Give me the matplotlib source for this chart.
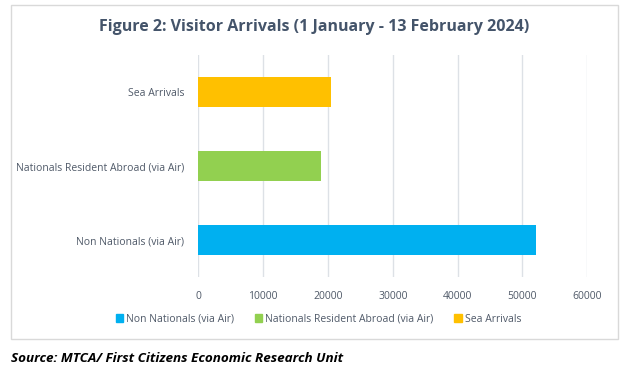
import matplotlib
matplotlib.use("Agg")
import matplotlib.pyplot as plt
from matplotlib.patches import Rectangle, Patch

categories = ['Non Nationals (via Air)', 'Nationals Resident Abroad (via Air)', 'Sea Arrivals']
arrivals = [52100, 18900, 20500]
colors = ['#00B0F0', '#92D050', '#FFC000']
xticks = [0, 10000, 20000, 30000, 40000, 50000, 60000]

W, H = 628, 373
text_col = '#4F5968'
plt.rcParams['font.family'] = ['Open Sans', 'DejaVu Sans']

fig = plt.figure(figsize=(W / 100, H / 100), dpi=100)
fig.patches.append(Rectangle((11 / W, 1 - 339 / H), 607 / W, 334 / H,
                             transform=fig.transFigure, fill=False,
                             edgecolor='#D9D9D9', linewidth=1))

ax = fig.add_axes([198.3 / W, 1 - 277 / H, 389 / W, 222 / H])
ax.barh(range(len(categories)), arrivals, height=0.4, color=colors, zorder=3)
ax.set_xlim(0, 60000)
ax.set_ylim(-0.5, 2.5)
ax.set_xticks(xticks)
ax.set_xticklabels([str(t) for t in xticks])
ax.set_yticks(range(len(categories)))
ax.set_yticklabels(categories)
ax.tick_params(axis='both', length=0, labelsize=7.5, labelcolor=text_col)
ax.tick_params(axis='x', pad=10)
ax.tick_params(axis='y', pad=10)
ax.grid(axis='x', color='#DDE1E6', linewidth=1, zorder=0)
for s in ax.spines.values():
    s.set_visible(False)

fig.text(0.5, 1 - 27 / H, 'Figure 2: Visitor Arrivals (1 January - 13 February 2024)',
         ha='center', va='center', fontsize=11.5, fontweight='bold',
         fontstretch='condensed', color='#44546A', family=['Open Sans', 'DejaVu Sans'])

handles = [Patch(color=c, label=l) for c, l in zip(colors, categories)]
fig.legend(handles=handles, loc='center', bbox_to_anchor=(0.507, 1 - 319 / H),
           ncol=3, frameon=False, fontsize=7.5, labelcolor=text_col,
           handlelength=0.7, handleheight=0.7, handletextpad=0.3, columnspacing=2.0)

fig.text(11 / W, 1 - 358 / H, 'Source: MTCA/ First Citizens Economic Research Unit',
         ha='left', va='center', fontsize=9.7, fontweight='bold', style='italic',
         color='black')

fig.savefig('out.png', dpi=100)
